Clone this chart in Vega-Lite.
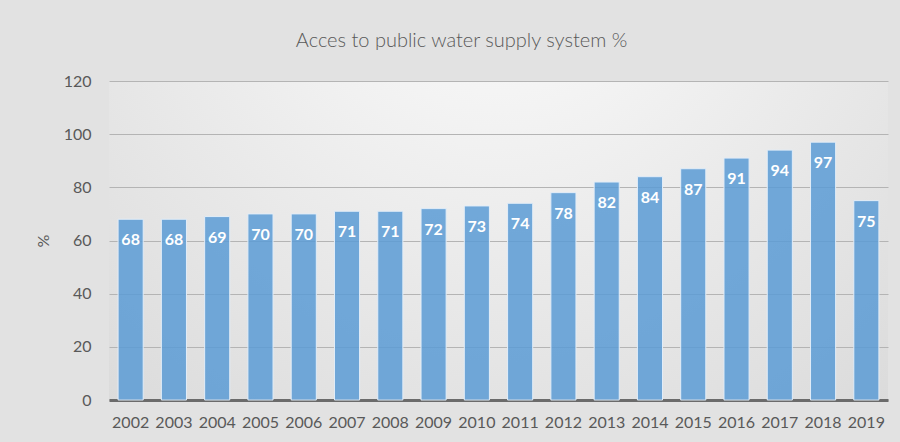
{
  "$schema": "https://vega.github.io/schema/vega-lite/v6.json",
  "autosize": {"type": "none"},
  "padding": {"left": 109, "top": 81, "right": 12, "bottom": 42},
  "width": 779,
  "height": 319,
  "background": "#e2e2e2",
  "config": {
    "font": "Lato",
    "view": {
      "stroke": null,
      "fill": {
        "gradient": "radial",
        "x1": 0.5, "y1": 0.1, "r1": 0,
        "x2": 0.5, "y2": 0.1, "r2": 0.95,
        "stops": [
          {"offset": 0, "color": "#fdfdfd"},
          {"offset": 1, "color": "#d4d4d4"}
        ]
      }
    }
  },
  "title": {
    "text": "Acces to public water supply system %",
    "font": "Lato",
    "fontSize": 20,
    "fontWeight": 300,
    "color": "#595959",
    "anchor": "middle",
    "frame": "bounds",
    "offset": 22
  },
  "data": {
    "values": [
      {"year": "2002", "value": 68},
      {"year": "2003", "value": 68},
      {"year": "2004", "value": 69},
      {"year": "2005", "value": 70},
      {"year": "2006", "value": 70},
      {"year": "2007", "value": 71},
      {"year": "2008", "value": 71},
      {"year": "2009", "value": 72},
      {"year": "2010", "value": 73},
      {"year": "2011", "value": 74},
      {"year": "2012", "value": 78},
      {"year": "2013", "value": 82},
      {"year": "2014", "value": 84},
      {"year": "2015", "value": 87},
      {"year": "2016", "value": 91},
      {"year": "2017", "value": 94},
      {"year": "2018", "value": 97},
      {"year": "2019", "value": 75}
    ]
  },
  "encoding": {
    "x": {
      "field": "year",
      "type": "ordinal",
      "scale": {"paddingInner": 0.42, "paddingOuter": 0.21},
      "axis": {
        "title": null,
        "labelAngle": 0,
        "labelFontSize": 16,
        "labelColor": "#595959",
        "labelPadding": 14,
        "ticks": false,
        "domainColor": "#6b6b6b",
        "domainWidth": 3,
        "grid": false
      }
    },
    "y": {
      "field": "value",
      "type": "quantitative",
      "scale": {"domain": [0, 120]},
      "axis": {
        "title": "%",
        "titleFontSize": 16,
        "titleFontWeight": "normal",
        "titleColor": "#595959",
        "titlePadding": 12,
        "values": [0, 20, 40, 60, 80, 100, 120],
        "labelFontSize": 16,
        "labelColor": "#595959",
        "labelPadding": 18,
        "ticks": false,
        "domain": false,
        "grid": true,
        "gridColor": "#b4b4b4",
        "gridWidth": 1
      }
    }
  },
  "layer": [
    {
      "mark": {
        "type": "bar",
        "fill": "#5b9bd5",
        "fillOpacity": 0.85,
        "stroke": "#e2edf8",
        "strokeWidth": 1
      }
    },
    {
      "mark": {
        "type": "text",
        "color": "white",
        "fontWeight": "bold",
        "fontSize": 16,
        "baseline": "middle",
        "dy": 21
      },
      "encoding": {
        "text": {"field": "value", "type": "quantitative"}
      }
    }
  ]
}
